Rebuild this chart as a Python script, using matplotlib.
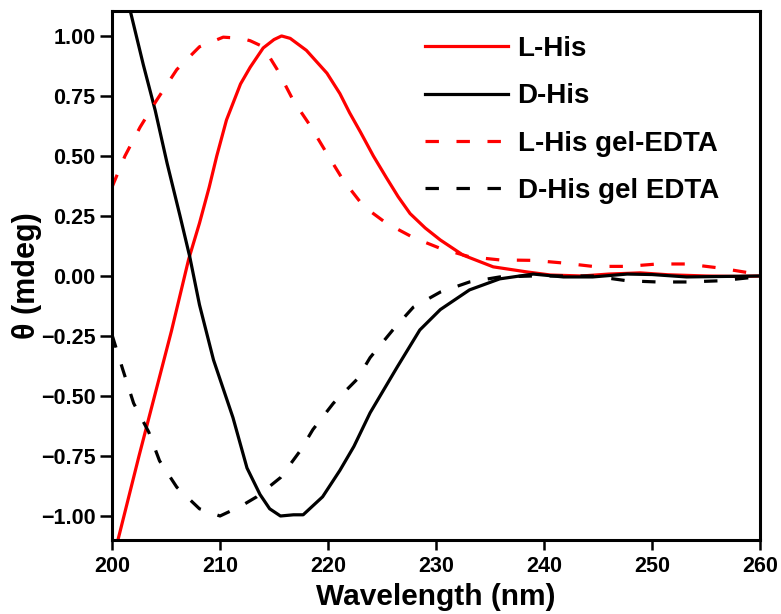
import matplotlib
matplotlib.use("Agg")
import matplotlib.pyplot as plt
import numpy as np

# L-His (red solid)
l_his_x = [200.55, 202.5, 204.0, 205.5, 207.1, 208.1, 209.0, 209.7, 210.6, 211.9, 212.8, 214.0,
           215.0, 215.7, 216.5, 218.0, 219.9, 221.1, 222.0, 223.0, 224.2, 225.4, 226.5, 227.6, 229.0,
           230.4, 232.5, 235.3, 238.4, 240.6, 243.5, 246.0, 248.9, 251.5, 255.0, 258.0, 260.0]
l_his_y = [-1.10, -0.75, -0.49, -0.23, 0.07, 0.22, 0.37, 0.50, 0.65, 0.80, 0.87, 0.95,
           0.985, 1.0, 0.99, 0.94, 0.845, 0.76, 0.68, 0.60, 0.50, 0.41, 0.33, 0.26, 0.20,
           0.15, 0.087, 0.038, 0.017, 0.004, 0.0, 0.008, 0.013, 0.005, 0.0, -0.002, 0.0]

# D-His (black solid)
d_his_x = [201.5, 202.9, 204.0, 205.1, 206.3, 207.2, 208.1, 209.4, 211.2, 212.5, 213.7, 214.6, 215.6,
           216.8, 217.7, 219.5, 221.1, 222.4, 223.9, 226.4, 228.5, 230.4, 233.1, 235.9, 239.0, 241.8,
           244.5, 247.7, 250.0, 253.2, 256.5, 260.0]
d_his_y = [1.14, 0.88, 0.69, 0.47, 0.25, 0.08, -0.12, -0.35, -0.59, -0.80, -0.91, -0.97, -1.0,
           -0.995, -0.995, -0.92, -0.81, -0.71, -0.57, -0.38, -0.225, -0.14, -0.058, -0.012, 0.008, -0.004,
           -0.004, 0.008, 0.006, -0.004, -0.002, 0.0]

# L-His gel-EDTA (red dashed)
l_gel_x = [200.0, 201.2, 202.6, 204.1, 206.0, 208.1, 210.3, 212.0, 212.8, 214.0, 215.3, 216.8, 218.3,
           219.9, 221.4, 223.3, 225.4, 227.9, 230.4, 233.1, 235.9, 239.0, 241.8, 244.5, 247.7, 250.5,
           253.2, 256.3, 259.7, 260.0]
l_gel_y = [0.37, 0.50, 0.62, 0.73, 0.86, 0.955, 0.995, 0.99, 0.98, 0.955, 0.86, 0.73, 0.63,
           0.51, 0.40, 0.29, 0.22, 0.16, 0.115, 0.08, 0.067, 0.065, 0.054, 0.04, 0.04, 0.05,
           0.05, 0.033, 0.008, 0.005]

# D-His gel EDTA (black dashed)
d_gel_x = [200.0, 201.0, 202.0, 203.4, 204.4, 206.0, 208.1, 210.0, 211.9, 213.4, 215.6, 217.4, 218.6,
           220.5, 222.7, 223.9, 226.0, 227.9, 230.4, 233.1, 235.9, 239.0, 242.0, 244.5, 247.7, 250.5,
           253.2, 256.3, 259.7, 260.0]
d_gel_y = [-0.245, -0.39, -0.53, -0.65, -0.77, -0.88, -0.97, -1.0, -0.96, -0.92, -0.84, -0.73, -0.64,
           -0.53, -0.43, -0.34, -0.225, -0.13, -0.067, -0.025, -0.004, 0.0, 0.0, 0.0, -0.02, -0.025,
           -0.025, -0.02, -0.004, 0.0]

labels = ["L-His", "D-His", "L-His gel-EDTA", "D-His gel EDTA"]
x_ticks = [200, 210, 220, 230, 240, 250, 260]
y_ticks = [-1.00, -0.75, -0.50, -0.25, 0.00, 0.25, 0.50, 0.75, 1.00]

plt.rcParams['font.family'] = ['Liberation Sans', 'DejaVu Sans']
plt.rcParams['font.weight'] = 'bold'

fig = plt.figure(figsize=(7.81, 6.14), dpi=100)
ax = fig.add_axes([112/781, 1-540/614, (760-112)/781, (540-11)/614])

lw = 2.3
dash = (4.2, 5.5)
ax.plot(l_his_x, l_his_y, color='#ff0000', lw=lw, label=labels[0])
ax.plot(d_his_x, d_his_y, color='black', lw=lw, label=labels[1])
ax.plot(l_gel_x, l_gel_y, color='#ff0000', lw=lw, ls='--', dashes=dash, label=labels[2])
ax.plot(d_gel_x, d_gel_y, color='black', lw=lw, ls='--', dashes=dash, label=labels[3])

ax.set_xlim(200, 260)
ax.set_ylim(-1.10, 1.104)
ax.set_xticks(x_ticks)
ax.set_yticks(y_ticks)
ax.set_yticklabels([f"{v:.2f}".replace('-', '\u2212') for v in y_ticks])
ax.tick_params(axis='x', direction='out', length=7.5, width=1.8, labelsize=15.5, pad=4.0)
ax.tick_params(axis='y', direction='out', length=9, width=1.8, labelsize=15.5, pad=3.0)
for s in ax.spines.values():
    s.set_linewidth(2.2)
for lab in ax.get_xticklabels() + ax.get_yticklabels():
    lab.set_fontweight('bold')

ax.set_xlabel("Wavelength (nm)", fontsize=21.5, fontweight='bold', labelpad=4.5)
ax.set_ylabel("θ (mdeg)", fontsize=22, fontweight='bold', labelpad=-1)

leg = ax.legend(loc='upper left', bbox_to_anchor=(425/781, 1-36/614), bbox_transform=fig.transFigure,
                frameon=False, fontsize=20, handlelength=3.0, handletextpad=0.33,
                labelspacing=0.77, borderpad=0, borderaxespad=0)
for t in leg.get_texts():
    t.set_fontweight('bold')

fig.savefig("out.png", dpi=100)
